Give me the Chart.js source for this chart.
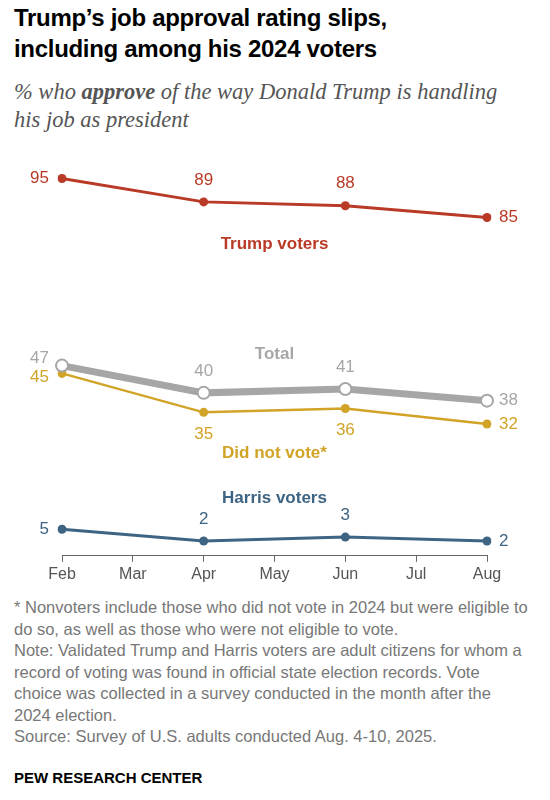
<!DOCTYPE html>
<html><head><meta charset="utf-8">
<script src="https://cdn.jsdelivr.net/npm/chart.js@4"></script>
<style>
body{margin:0;width:550px;height:800px;background:#fff;font-family:"Liberation Sans",Arial,sans-serif;position:relative;overflow:hidden}
h1{position:absolute;left:14px;top:2px;margin:0;font-family:"Liberation Sans",Arial;font-size:24px;line-height:31px;font-weight:bold;color:#000;letter-spacing:-0.3px}
.sub{position:absolute;left:14px;top:78px;font-family:"Liberation Serif","DejaVu Serif",serif;font-style:italic;font-size:22.5px;line-height:28px;color:#555}
#wrap{position:absolute;left:0;top:151px;width:550px;height:436px}
.notes{position:absolute;left:14px;top:597px;font-size:16.5px;line-height:21.5px;color:#777;width:515px}
.pew{position:absolute;left:14px;top:769px;font-size:15px;font-weight:bold;color:#000}
</style></head><body>
<h1>Trump’s job approval rating slips,<br>including among his 2024 voters</h1>
<div class="sub">% who <b>approve</b> of the way Donald Trump is handling<br>his job as president</div>
<div id="wrap"><canvas id="c"></canvas></div>
<div class="notes">* Nonvoters include those who did not vote in 2024 but were eligible to do so, as well as those who were not eligible to vote.<br>Note: Validated Trump and Harris voters are adult citizens for whom a record of voting was found in official state election records. Vote choice was collected in a survey conducted in the month after the 2024 election.<br>Source: Survey of U.S. adults conducted Aug. 4-10, 2025.</div>
<div class="pew">PEW RESEARCH CENTER</div>
<script>
const months=["Feb","Mar","Apr","May","Jun","Jul","Aug"];
const trump=[95,null,89,null,88,null,85];
const total=[47,null,40,null,41,null,38];
const nonvote=[45,null,35,null,36,null,32];
const harris=[5,null,2,null,3,null,2];
const names=[["Trump voters",78,"#b93a26"],["Total",50,"#a6a6a6"],["Did not vote*",24.5,"#d1a326"],["Harris voters",13,"#3e6483"]];
const series=[
 {d:trump,c:"#b93a26",w:3,pos:["left","above","above","right"]},
 {d:total,c:"#a6a6a6",w:7,pos:["left","above","above","right"],hollow:true},
 {d:nonvote,c:"#d1a326",w:2.5,pos:["left","below","below","right"]},
 {d:harris,c:"#3e6483",w:3,pos:["left","above","above","right"]}];
const ds=series.map(s=>({data:s.d,borderColor:s.c,borderWidth:s.w,spanGaps:true,
 pointRadius:s.hollow?6:4.5,pointBackgroundColor:s.hollow?"#fff":s.c,pointBorderColor:s.c,pointBorderWidth:s.hollow?2:0,tension:0}));
const labelPlugin={id:"lbl",afterDatasetsDraw(ch){
 const ctx=ch.ctx;ctx.save();ctx.font="17px 'Liberation Sans',Arial";
 series.forEach((s,i)=>{const meta=ch.getDatasetMeta(i);let k=0;
  s.d.forEach((v,j)=>{if(v===null)return;const p=meta.data[j];const pos=s.pos[k++];ctx.fillStyle=s.c;
   let x=p.x,y=p.y;ctx.textBaseline="middle";
   if(pos==="left"){ctx.textAlign="right";x-=13;if(i==1)y-=7;if(i==2)y+=4;}
   else if(pos==="right"){ctx.textAlign="left";x+=12;}
   else if(pos==="above"){ctx.textAlign="center";y-=22;}
   else{ctx.textAlign="center";y+=22;}
   ctx.fillText(v,x,y);});});
 ctx.font="bold 17px 'Liberation Sans',Arial";ctx.textAlign="center";
 const xs=ch.scales.x,ys=ch.scales.y;
 names.forEach(n=>{ctx.fillStyle=n[2];ctx.fillText(n[0],xs.getPixelForValue(3),ys.getPixelForValue(n[1]));});
 ctx.restore();}};
new Chart(document.getElementById("c"),{type:"line",data:{labels:months,datasets:ds},plugins:[labelPlugin],
 options:{responsive:true,maintainAspectRatio:false,animation:false,
  layout:{padding:{left:62,right:63,top:0,bottom:0}},
  plugins:{legend:{display:false},tooltip:{enabled:false}},
  scales:{x:{offset:false,border:{display:true,color:"#666",width:1},
   ticks:{color:"#555",font:{size:16,family:"'Liberation Sans',Arial"},padding:3},
   grid:{display:true,drawOnChartArea:false,tickLength:6,tickColor:"#666"}},
   y:{display:false,min:-1.8,max:100}}}});
</script></body></html>
